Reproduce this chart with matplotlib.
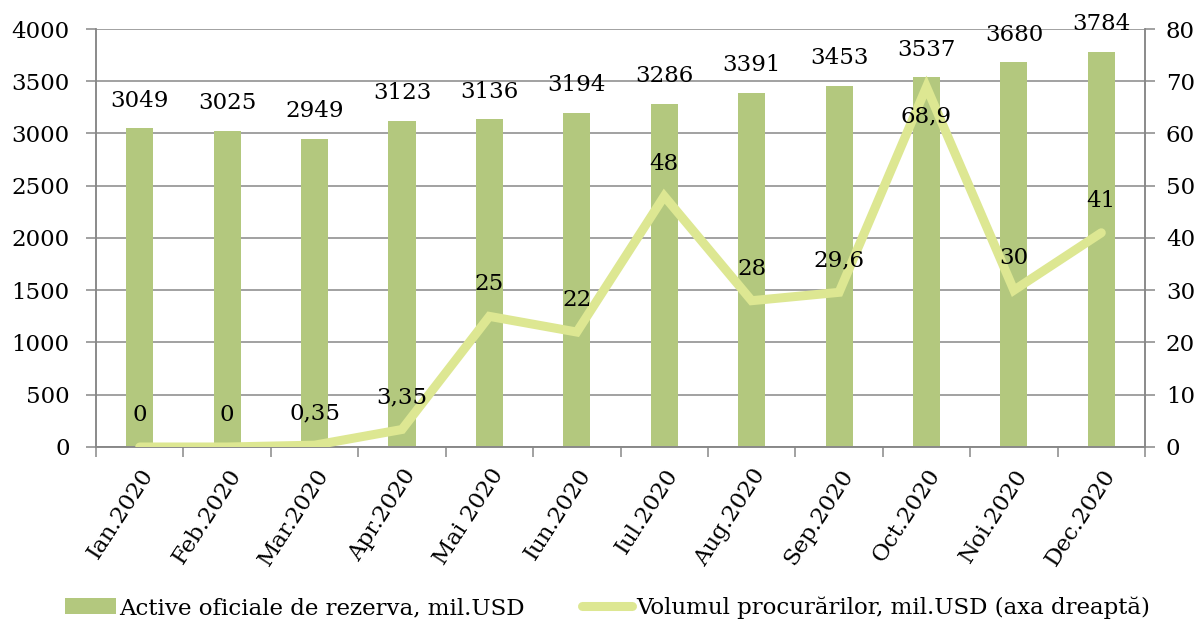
import matplotlib
matplotlib.use("Agg")
import matplotlib.pyplot as plt
import numpy as np

months = ["Ian.2020", "Feb.2020", "Mar.2020", "Apr.2020", "Mai 2020", "Iun.2020",
          "Iul.2020", "Aug.2020", "Sep.2020", "Oct.2020", "Noi.2020", "Dec.2020"]
reserves = [3049, 3025, 2949, 3123, 3136, 3194, 3286, 3391, 3453, 3537, 3680, 3784]
purchases = [0, 0, 0.35, 3.35, 25, 22, 48, 28, 29.6, 68.9, 30, 41]
purchase_labels = ["0", "0", "0,35", "3,35", "25", "22", "48", "28", "29,6", "68,9", "30", "41"]

plt.rcParams['font.family'] = ['DejaVu Serif']
fs = 16.5
bar_col = "#b3c87e"
line_col = "#dde792"
grid_col = "#878787"

fig = plt.figure(figsize=(12.03, 6.21), dpi=100)
ax = fig.add_axes([0.0798, 0.2802, 0.872, 0.6731])
ax2 = ax.twinx()

x = np.arange(len(months))
ax.bar(x, reserves, width=0.31, color=bar_col, zorder=2,
       label="Active oficiale de rezerva, mil.USD")
for xi, v in zip(x, reserves):
    ax.annotate(str(v), (xi, v), xytext=(0, 20), textcoords="offset points",
                ha="center", va="center", fontsize=fs)

ax.set_xlim(-0.5, 11.5)
ax.set_ylim(0, 4000)
ax.set_yticks(range(0, 4001, 500))
ax.yaxis.grid(True, color=grid_col, linewidth=1.1, zorder=0)
ax.set_axisbelow(True)
ax.set_xticks(x)
ax.set_xticklabels(months, rotation=57, ha="right", va="top", rotation_mode="anchor",
                   fontsize=fs)
ax.set_xticks(np.arange(-0.5, 12, 1), minor=True)
ax.tick_params(axis="x", which="major", length=0, pad=13)
ax.tick_params(axis="x", which="minor", length=7, color=grid_col, width=1.1)
ax.tick_params(axis="y", labelsize=fs, length=7, color=grid_col, width=1.1, pad=12)
ax.spines["top"].set_visible(False)
ax2.spines["top"].set_visible(False)
for s in ["left", "bottom", "right"]:
    ax.spines[s].set_color(grid_col)
    ax.spines[s].set_linewidth(1.1)
    ax2.spines[s].set_color(grid_col)
    ax2.spines[s].set_linewidth(1.1)

ax2.plot(x, purchases, color=line_col, linewidth=6.5, solid_capstyle="round",
         solid_joinstyle="miter", zorder=3, label="Volumul procurărilor, mil.USD (axa dreaptă)")
ax2.set_ylim(0, 80)
ax2.set_yticks(range(0, 81, 10))
ax2.tick_params(axis="y", labelsize=fs, length=7, color=grid_col, width=1.1, pad=8)
for xi, v, lab in zip(x, purchases, purchase_labels):
    off = -21 if v > 60 else 23
    ax2.annotate(lab, (xi, v), xytext=(0, off), textcoords="offset points",
                 ha="center", va="center", fontsize=fs, zorder=4)

h1, l1 = ax.get_legend_handles_labels()
h2, l2 = ax2.get_legend_handles_labels()
fig.legend(h1 + h2, l1 + l2, loc="lower center", bbox_to_anchor=(0.505, -0.03), ncol=2,
           frameon=False, fontsize=fs, handlelength=2.2, handletextpad=0.15,
           columnspacing=2.5)

fig.savefig("out.png", dpi=100)
